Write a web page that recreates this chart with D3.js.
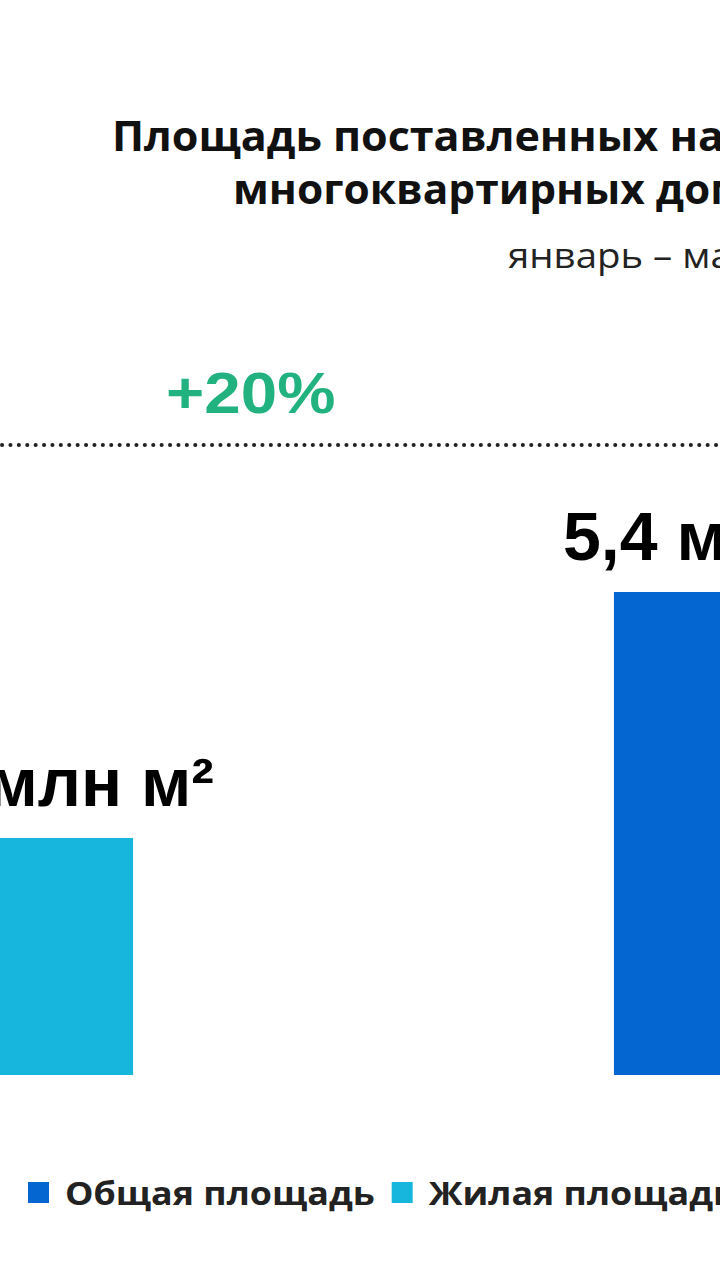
<!DOCTYPE html>
<html lang="ru">
<head>
<meta charset="utf-8">
<script src="https://cdn.jsdelivr.net/npm/d3@7"></script>
<style>
  html, body { margin: 0; padding: 0; background: #fff; overflow: hidden; }
  svg { display: block; }
</style>
</head>
<body>
<svg id="chart"></svg>
<script>
// bars visible in the frame
const categories = ["Жилая площадь, 2023", "Общая площадь, 2024"];
const values = [2.65, 5.4];
const valueLabels = ["2,7 млн м²", "5,4 млн м²"];
const seriesNames = ["Общая площадь", "Жилая площадь"];
const growthLabel = "+20%";
const titleLines = ["Площадь поставленных на кадастровый учёт", "многоквартирных домов"];
const subtitle = "январь – май";

const width = 720;
const height = 1280;
const colors = { "Общая площадь": "#0466d0", "Жилая площадь": "#17b6dc" };

const svg = d3.select("#chart")
  .attr("width", width)
  .attr("height", height);

svg.append("rect").attr("width", width).attr("height", height).attr("fill", "#fff");

// text drawn a bit wider than the font, like the source picture
function stretchedText(x, y, sx, str) {
  return svg.append("text")
    .attr("transform", `translate(${x},${y}) scale(${sx},1)`)
    .text(str);
}

// scales (the chart is wider than the frame, so the range runs past the edges)
const x = d3.scaleBand()
  .domain(categories)
  .range([-75, 822])
  .paddingInner(0.698);

const y = d3.scaleLinear()
  .domain([0, d3.max(values)])
  .range([1075, 592]);

// title
stretchedText(112, 151, 1.05, titleLines[0])
  .style("font-family", "'Open Sans', sans-serif")
  .style("font-weight", 700)
  .style("font-size", "41px")
  .attr("fill", "#111");

stretchedText(233, 204, 1.035, titleLines[1])
  .style("font-family", "'Open Sans', sans-serif")
  .style("font-weight", 700)
  .style("font-size", "41px")
  .attr("fill", "#111");

stretchedText(508, 268, 1.13, subtitle)
  .style("font-family", "'Open Sans', sans-serif")
  .style("font-size", "34px")
  .attr("fill", "#222");

// growth note and dotted line
stretchedText(166, 413, 1.13, growthLabel)
  .style("font-family", "'Liberation Sans', Arial, sans-serif")
  .style("font-weight", 700)
  .style("font-size", "58px")
  .attr("fill", "#22b27f");

svg.append("line")
  .attr("x1", 2).attr("x2", width)
  .attr("y1", 445).attr("y2", 445)
  .attr("stroke", "#222")
  .attr("stroke-width", 4)
  .attr("stroke-linecap", "round")
  .attr("stroke-dasharray", "0.1 8.3");

// bars
const barColor = i => i === 0 ? colors["Жилая площадь"] : colors["Общая площадь"];

svg.selectAll("rect.bar")
  .data(values)
  .enter()
  .append("rect")
  .attr("class", "bar")
  .attr("x", (d, i) => x(categories[i]))
  .attr("y", d => y(d))
  .attr("width", x.bandwidth())
  .attr("height", d => y(0) - y(d))
  .attr("fill", (d, i) => barColor(i));

// value labels
svg.selectAll("text.value")
  .data(values)
  .enter()
  .append("text")
  .attr("class", "value")
  .attr("x", (d, i) => x(categories[i]) + x.bandwidth() / 2 + 15)
  .attr("y", d => y(d) - 32)
  .attr("text-anchor", "middle")
  .style("font-family", "'Liberation Sans', Arial, sans-serif")
  .style("font-weight", 700)
  .style("font-size", "68px")
  .attr("fill", "#000")
  .text((d, i) => valueLabels[i]);

// legend
let lx = 28;
seriesNames.forEach(name => {
  svg.append("rect")
    .attr("x", lx).attr("y", 1182)
    .attr("width", 21).attr("height", 21)
    .attr("fill", colors[name]);
  const t = stretchedText(lx + 37, 1205, 1.12, name)
    .style("font-family", "'Open Sans', sans-serif")
    .style("font-weight", 700)
    .style("font-size", "32px")
    .attr("fill", "#222");
  lx += 37 + t.node().getComputedTextLength() * 1.12 + 17;
});
</script>
</body>
</html>
